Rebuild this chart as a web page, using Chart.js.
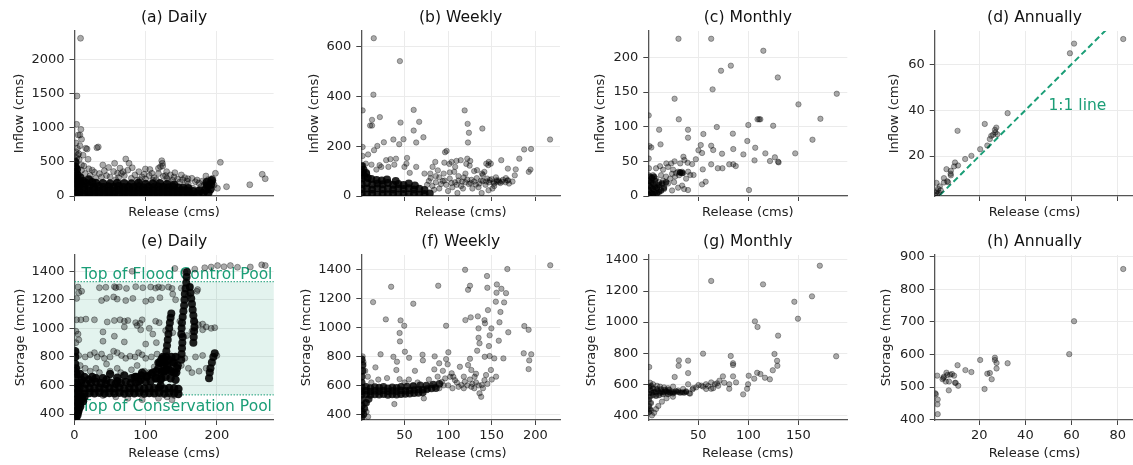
<!DOCTYPE html>
<html><head><meta charset="utf-8">
<script src="https://cdn.jsdelivr.net/npm/chart.js@4.4.1/dist/chart.umd.min.js"></script>
<style>
body{margin:0;background:#fff;width:1133px;height:465px;overflow:hidden;position:relative}
canvas{position:absolute}
</style></head><body>
<script>
// ---------------- DATA ----------------
const dailyXTicks = [0,100,200];
const weeklyXTicks = [50,100,150,200];
const monthlyXTicks = [50,100,150];
const annualXTicks = [20,40,60,80];
const dailyInflowYTicks = [0,500,1000,1500,2000];
const weeklyInflowYTicks = [0,200,400,600];
const monthlyInflowYTicks = [0,50,100,150,200];
const annualInflowYTicks = [20,40,60];
const storageYTicks = [400,600,800,1000,1200,1400];
const annualStorageYTicks = [400,500,600,700,800,900];

const floodControlTop = 1327;   // mcm
const conservationTop = 534;    // mcm
const oneToOneEnds = [3, 80];

// (a) daily inflow vs release
const dailyInflowSparse = [[8.5,2319],[3.5,1470],[3,1054],[9,980],[5.3,897],[7.6,897],[9.9,834],[7.6,740],[15.9,701],[17.7,691],[31.5,710],[33.4,721],[4.4,603],[6.6,540],[9.9,456],[19.1,540],[13.1,441],[39.8,456],[56.4,481],[72.1,544],[76.7,481],[81.2,416],[122.7,519],[123.6,481],[124,441],[120.9,431],[118.1,407],[99.7,397],[205.1,495],[198.2,334],[213.8,137],[246.5,166],[264,319],[268.2,254],[159.5,254],[172.4,235],[184.8,294],[194,260],[194,210],[193,196],[196.4,162],[201,113],[177.9,137],[182.6,162],[187.2,113],[173.3,88],[166.4,113],[60.5,334],[68.4,358],[90.5,358],[108.8,334],[129.6,358],[141.2,343],[150.3,309],[2,780],[4,700],[2,650],[6,620],[12,600],[3,560],[20,400],[25,380],[28,350],[35,330],[45,300],[50,280],[42,370],[62,270],[70,300],[80,260],[85,310],[95,280],[100,250],[105,300],[112,270],[118,330],[125,290],[130,260],[135,310],[140,280],[145,250],[152,240],[158,220],[165,260],[170,210],[175,190],[180,220],[185,180],[188,240],[190,150],[30,260],[15,330],[10,380],[55,360],[75,380],[92,240],[110,230],[132,220],[148,205],[160,180],[22,300],[38,280],[58,240],[66,330],[88,230],[98,320],[115,240],[128,300],[138,230],[155,270],[48,420],[64,410],[106,390]];
const dailyInflowCore = [[0,20],[6,25],[13,18],[20,22],[27,15],[34,24],[41,20],[48,18],[55,25],[62,20],[69,16],[76,22],[83,19],[90,24],[97,18],[104,21],[111,17],[118,23],[125,20],[132,18],[139,24],[146,19],[153,22],[160,18],[167,25],[174,30],[181,40],[188,45],[0,80],[6,75],[13,82],[20,70],[27,78],[34,74],[41,80],[48,72],[55,76],[62,82],[69,74],[76,78],[83,72],[90,80],[97,76],[104,70],[111,78],[118,74],[125,80],[132,72],[139,76],[146,70],[153,78],[160,72],[167,66],[176,80],[184,90],[191,100],[0,140],[6,150],[13,135],[20,145],[27,130],[34,140],[41,128],[48,136],[55,130],[62,140],[69,126],[76,134],[83,128],[90,138],[97,124],[104,132],[111,126],[118,136],[125,130],[132,124],[139,132],[146,120],[153,118],[160,112],[187,150],[192,170],[186,200],[193,230],[1,200],[1,270],[1,350],[1,430],[1,500],[4,240],[4,310],[8,200],[8,270],[12,220],[16,190],[20,240],[25,200],[3,390],[6,180],[30,190],[40,185],[50,180],[60,190],[70,185],[80,180],[90,190],[100,175],[110,180],[120,185],[130,170],[140,165]];

// (b) weekly inflow vs release
const weeklyInflowSparse = [[14.8,634],[44.8,542],[14.4,407],[2,344],[60.6,346],[119.1,344],[12.8,306],[21.8,317],[45.5,295],[66.9,298],[10.6,283],[12.8,283],[122.5,290],[124,254],[139.4,271],[60.6,263],[71.8,236],[122.9,215],[63.5,215],[48.9,228],[44,208],[37.3,227],[26.4,216],[18.9,201],[15.1,184],[8.3,167],[2,197],[2,161],[217.1,227],[187.4,187],[195.3,189],[181.8,150],[192.7,97],[194.6,106],[177.7,107],[161.1,144],[168.7,110],[149.1,130],[146.2,124],[146.8,137],[143.9,130],[133.3,104],[139,90],[141.7,97],[125.5,141],[124.8,122],[122.1,150],[121,129],[114.6,144],[109.7,141],[104.1,137],[96.6,176],[98.4,181],[95.8,134],[101.5,129],[108.2,117],[107.1,97],[110.8,12],[117.2,30],[138.6,12],[146.5,23],[151,30],[152.9,50],[155.9,63],[158.6,56],[169,63],[166.4,72],[176.6,83],[88.3,103],[85.4,137],[82.3,117],[73,90],[79.7,90],[53,153],[50,117],[56.1,93],[63.5,117],[52.3,130],[40.3,150],[38.4,126],[33.9,148],[31.6,117],[29,144],[23.4,117],[17.8,106],[21.5,124],[12.2,126],[7.2,90],[5.7,130],[2.7,124],[2.7,90],[82,40],[86,55],[90,30],[94,60],[98,45],[102,70],[105,35],[108,55],[112,62],[115,40],[118,75],[120,55],[124,48],[127,65],[130,58],[133,72],[136,50],[140,60],[143,45],[147,55],[150,68],[153,40],[156,58],[160,52],[163,65],[166,55],[170,50],[174,58],[100,20],[90,75],[128,30],[135,35],[145,70],[112,80],[155,75],[120,90],[130,100],[140,85],[95,90],[102,95],[84,25],[92,48],[96,62],[104,52],[110,45],[116,58],[122,66],[126,52],[132,46],[138,62],[144,58],[148,64],[152,55],[158,62],[162,58],[168,62],[78,60],[80,72],[86,80],[76,45]];
const weeklyInflowCore = [[1,8],[7,6],[13,9],[19,5],[25,8],[31,7],[37,9],[43,6],[49,8],[55,7],[61,9],[67,6],[73,8],[79,10],[1,28],[7,30],[13,26],[19,31],[25,27],[31,29],[37,26],[43,30],[49,28],[55,31],[61,26],[67,29],[73,24],[1,48],[7,52],[13,46],[19,50],[25,47],[31,52],[37,45],[43,48],[49,44],[55,50],[62,42],[1,70],[1,95],[1,120],[4,80],[8,72],[12,68],[18,64],[24,62],[30,66],[40,60],[3,105],[6,92]];

// (c) monthly inflow vs release
const monthlyInflowSparse = [[30.4,226.8],[63,226.8],[115,209.5],[72.8,180.7],[82.6,188],[64.4,153.8],[26.5,140.3],[129.4,171],[150,132.2],[188.2,147.5],[30.7,110.6],[0.7,116.3],[109.2,110.6],[110.8,110.6],[112,110.6],[171.9,111.4],[100,102.4],[124.8,101.3],[164,81.2],[146.8,61.5],[68.6,99.5],[39.9,95.6],[11.1,95.6],[55.2,89.4],[84.6,89.9],[39.9,84.1],[12.5,74.5],[52.6,73.5],[63,72.5],[99,79.3],[106.9,69.6],[117,61.5],[126.5,55.8],[121.6,50.4],[129.7,49.5],[130.2,48.5],[106.2,51.4],[95.1,60],[85,67.7],[73.8,61],[65,66.3],[53.9,62],[50.3,65.9],[85,45.7],[87.5,43.2],[81,45.7],[74.2,40],[69.6,40],[63,45.7],[54.6,38.4],[53.9,16.8],[57.5,20.6],[100.7,8.6],[39.9,8.6],[42.2,30.3],[45.4,30.3],[47.7,53],[39.5,48],[36.3,51.9],[35.3,56.6],[32.1,47],[26.5,50],[23.2,47],[18.3,47],[1.5,72],[3.3,70],[0.7,54],[1,40],[0.8,30],[5,30],[8,25],[15,38],[20,42],[25,38],[28,33],[30,35],[32,34],[34,35],[35,33],[31,30],[27,28],[24,32],[22,25],[18,28],[15,22],[13,30],[11,20],[10,14],[20,18],[26,20],[30,12],[34,15],[38,25],[36,10],[16,10],[24,8],[40,35],[44,46],[12,43],[8,40]];
const monthlyInflowCore = [[1,2],[1,8],[1,15],[1,22],[3,4],[3,12],[3,20],[5,3],[5,10],[5,18],[7,5],[7,13],[7,22],[9,4],[9,12],[11,6],[11,16],[13,8],[14,18],[16,12],[18,20],[2,28],[4,26],[6,28],[32,34],[34,33]];

// (d) annual inflow vs release
const annualInflow = [[82.4,71],[61.1,69],[59.3,64.8],[32.3,38.7],[22.4,34],[10.6,31],[27.4,32.4],[26.8,31.4],[27,30.3],[26,29.3],[25.2,28.8],[24.6,27.4],[23.5,24.6],[20.4,23],[16.6,20.1],[13.9,18.7],[9.5,17.2],[10.8,15.9],[9.1,15.5],[5.8,14.3],[7.7,13.6],[7.6,12.3],[7.7,11.6],[4.7,10.4],[6.1,9],[4.7,8.5],[1.5,8.3],[2.9,6.8],[2.2,5.7],[1.6,4.6],[1.2,3.9],[1.8,3.3],[2.5,4.1],[3.3,5.1],[6.5,8.6],[27.8,29.5]];

// (e) daily storage vs release
const dailyStorageSparse = [[5,1290],[35,1285],[44,1288],[56,1292],[58,1285],[63,1290],[73,1280],[86,1292],[96,1285],[107,1290],[114,1282],[118,1290],[123,1285],[132,1290],[137,1280],[150,1282],[162,1290],[173,1272],[81,1400],[141,1420],[155,1395],[169,1415],[183,1425],[192,1430],[201,1440],[210,1432],[219,1440],[229,1428],[247,1430],[263,1445],[268,1440],[3,1210],[6,1250],[10,1260],[38,1195],[45,1210],[55,1220],[60,1205],[72,1195],[82,1210],[100,1190],[108,1200],[120,1215],[138,1240],[142,1200],[160,1230],[172,1260],[3,1060],[9,1060],[16,1065],[28,1060],[46,1045],[56,1055],[64,1060],[70,1050],[75,1055],[86,1040],[92,1035],[95,1060],[114,1050],[119,1040],[148,1050],[169,1045],[174,1025],[180,1030],[185,1010],[192,1000],[197,1005],[165,980],[180,990],[2,980],[5,960],[40,975],[56,945],[70,1010],[88,1020],[105,1000],[110,960],[93,990],[128,985],[138,970],[158,950],[2,900],[6,920],[40,910],[70,905],[100,890],[115,900],[2,830],[6,810],[15,800],[22,815],[28,830],[32,800],[38,820],[42,790],[50,800],[55,840],[60,830],[66,810],[72,790],[78,805],[85,800],[90,830],[95,815],[100,790],[108,800],[116,820],[122,790],[130,810],[145,800],[155,790],[170,800],[180,810],[200,810],[8,740],[15,720],[22,700],[30,720],[35,690],[45,750],[50,700],[60,720],[65,690],[80,710],[88,740],[98,700],[105,690],[112,730],[125,700],[133,720],[142,680],[150,740],[160,720],[165,690],[175,700],[185,720],[40,530],[58,520],[75,510],[95,500],[118,510],[130,520],[137,500],[140,530]];
const dailyStorageCore = [[0,545],[7,548],[14,543],[21,547],[28,545],[35,549],[42,544],[49,547],[56,545],[63,548],[70,543],[77,547],[84,545],[91,549],[98,544],[105,547],[112,545],[119,548],[126,543],[133,547],[140,545],[146,540],[0,580],[7,583],[14,578],[21,582],[28,580],[35,584],[42,579],[49,582],[56,580],[63,585],[70,578],[77,582],[84,580],[91,584],[98,579],[105,582],[112,580],[119,585],[126,578],[133,582],[140,580],[146,575],[2,615],[9,620],[16,612],[23,618],[30,625],[37,615],[44,610],[51,620],[58,612],[65,618],[72,625],[79,615],[86,620],[93,640],[100,625],[107,630],[114,650],[121,640],[128,660],[135,650],[142,640],[25,660],[50,680],[70,670],[95,690],[110,690],[118,720],[126,700],[133,710],[140,690],[30,650],[60,655],[85,660],[102,665],[120,760],[124,800],[130,740],[138,760],[144,720],[40,650],[14,660],[8,680],[0.5,380],[1,420],[1,460],[1,500],[1,650],[1,700],[1,750],[1,800],[1,840],[4,390],[6,430],[8,470],[11,505],[14,520],[3,520],[3,680],[2,720],[2,370],[5,410],[8,450],[12,490],[4,480],[7,500],[10,520],[3,450],[80,650],[87,660],[94,670],[101,660],[108,680],[115,700],[122,690],[129,710],[136,700],[143,690],[118,760],[122,780],[126,760],[132,780],[140,760],[145,740],[142,800],[136,800],[115,650],[90,630],[60,630],[45,640],[20,640],[10,640],[5,600],[5,560]];
const dailyStorageStreaks = [[128,760],[128.5,800],[129,840],[130,880],[131,920],[132,960],[133,1000],[134,1040],[135,1075],[136,1105],[150,960],[150.5,1000],[151,1040],[152,1080],[153,1120],[154,1160],[154.5,1200],[155,1240],[156,1280],[157,1320],[157.5,1360],[158,1395],[162,1290],[163,1250],[164,1210],[165,1170],[166,1130],[167,1090],[168,1050],[168.5,1010],[150,780],[150.5,820],[151,860],[151.5,900],[152,940],[167,900],[167.5,940],[168,980],[189,650],[190,690],[191,720],[193,760],[195,800],[197,826],[121,600],[122,650],[123,700],[124,750],[125,790]];

// (f) weekly storage vs release
const weeklyStorageSparse = [[217.1,1428],[167.9,1402],[119.5,1397],[144.6,1354],[34.7,1280],[88.7,1287],[125.1,1287],[122.9,1259],[145,1273],[155.9,1296],[161.1,1266],[166.4,1236],[155.5,1239],[154.7,1177],[164.2,1172],[160,1106],[145.7,1119],[14,1174],[60.1,1163],[28.6,1055],[45.5,1048],[49.7,1011],[97.7,1011],[119.8,1050],[125.9,1069],[134.1,1076],[141.7,1050],[142.3,1028],[134.9,993],[149.6,993],[158.9,1035],[187.4,1009],[192.3,983],[169,966],[44.4,961],[44.8,903],[134.9,928],[147.6,945],[136,890],[146.8,871],[158.1,908],[133.3,839],[147.6,802],[142,797],[152.9,786],[163.4,786],[186.7,821],[195.3,814],[193,772],[192.3,712],[100.3,828],[97.7,781],[99.5,745],[89.8,752],[84.2,710],[84.6,800],[71.1,772],[70.7,811],[55.3,790],[50.5,832],[37.3,797],[22.6,814],[16.7,724],[41.4,763],[40.7,706],[44.4,643],[125.1,783],[122.9,740],[126.6,706],[113.5,728],[104.1,683],[137.9,521],[136,545],[126.6,590],[115.3,602],[107.9,636],[106,659],[138.6,602],[141.7,636],[143.5,671],[149.1,706],[130.4,659],[119.1,624],[72.2,510],[75.9,567],[85.4,590],[92.8,624],[96.6,648],[102.3,659],[38.4,471],[6.5,418],[8.3,383],[4.6,476],[100,600],[105,580],[110,620],[112,590],[118,580],[122,600],[125,640],[128,610],[130,580],[132,620],[135,600],[140,580],[145,610],[150,640],[155,660],[132,680],[118,660],[95,600],[90,580],[80,600],[78,640],[65,620],[60,600],[88,660],[94,700],[62,700],[55,640],[50,620],[30,650],[20,640],[12,620],[5,700],[3,760],[2,800],[8,660]];
const weeklyStorageCore = [[1,535],[6,538],[11,533],[16,537],[21,535],[26,539],[31,534],[36,537],[41,535],[46,539],[51,540],[56,542],[61,545],[66,548],[71,550],[1,560],[6,563],[11,558],[16,562],[21,560],[26,564],[31,559],[36,562],[41,560],[46,565],[51,562],[56,566],[61,568],[66,572],[71,570],[76,575],[81,578],[86,580],[1,585],[6,590],[11,582],[16,588],[21,584],[26,590],[31,580],[36,586],[41,583],[46,590],[53,592],[60,596],[68,600],[75,598],[83,605],[90,610],[1,380],[1,420],[1,460],[1,500],[1,620],[1,660],[2,700],[3,400],[4,440],[6,480],[9,505],[2,740],[1,780]];

// (g) monthly storage vs release
const monthlyStorageSparse = [[63,1265],[114.7,1243],[171.3,1363],[145.9,1131],[163.5,1166],[149.5,1022],[106.6,1005],[109.2,969],[129.7,913],[187.6,780],[126.1,795],[128.7,751],[129,719],[124.4,690],[108.8,674],[112.1,666],[116.6,642],[121.5,632],[105.9,636],[100.4,655],[99.8,600],[98.8,571],[94.9,535],[82.5,782],[84.8,735],[84.8,724],[84.8,651],[87.8,612],[81,600],[81,571],[74.7,651],[71.2,623],[68.8,606],[66.6,600],[63,612],[63,571],[60,589],[57.8,600],[53.2,591],[50.3,595],[54.9,797],[40,752],[30.8,754],[30.5,719],[40,672],[26.6,647],[40,600],[41.2,542],[44.4,567],[1.2,711],[10.3,460],[13.9,488],[18.5,510],[24.9,520],[6.1,417],[4,400],[3,430],[8,440],[2,610],[5,600],[9,590],[12,585],[16,580],[20,575],[25,585],[30,560],[35,570],[38,555],[42,540],[45,575],[48,580],[55,585],[58,570],[65,575],[70,590],[76,610]];
const monthlyStorageCore = [[1,420],[1,460],[1,500],[1,540],[1,580],[2,440],[2,520],[3,480],[3,560],[4,545],[6,550],[8,548],[10,555],[12,545],[14,552],[16,548],[18,555],[20,550],[22,545],[24,552],[26,548],[28,555],[30,550],[32,545],[34,548],[36,545],[38,550],[5,530],[8,525],[11,530],[15,535],[20,535],[25,540],[3,590],[5,575],[9,570],[13,568],[17,565],[21,565]];

// (h) annual storage vs release
const annualStorage = [[82.4,862],[61.1,702],[59,601],[32.3,573],[27.5,557],[27.5,574],[26.8,583],[26.8,590],[20.4,583],[22.3,494],[23.5,541],[24.6,543],[25.4,524],[16.6,546],[14,552],[10.6,567],[10.9,504],[9.5,513],[9.1,535],[8.2,540],[7.4,538],[5.8,544],[6.8,490],[4.7,532],[4.1,524],[5.5,517],[6.9,517],[1.8,535],[0.9,481],[2,462],[1.9,447],[2,417],[4.5,528],[9.8,513],[6.2,537],[1.2,478]];

// ---------------- LAYOUT ----------------
const TEAL = '#1b9e77';
Chart.defaults.font.family = "'DejaVu Sans'";
Chart.defaults.font.size = 13;
const colL = [74.5, 361.3, 648.3, 934.7];
const colR = [278, 564, 851, 1138];
const rowT = [31, 255];
const rowB = [196, 420];
const rowCanvasBottom = [220, 461];

const pts = a => a.map(([x,y]) => ({x, y}));
const sparse = (a, r) => ({data: pts(a), backgroundColor:'rgba(0,0,0,0.33)', borderColor:'rgba(0,0,0,0.33)', borderWidth:1, pointRadius:r, pointHoverRadius:r});
const core = (a, r, alpha) => ({data: pts(a), backgroundColor:`rgba(0,0,0,${alpha})`, borderColor:'rgba(0,0,0,0)', borderWidth:0, pointRadius:r, pointHoverRadius:r});

const panels = [
 {row:0,col:0,title:'(a) Daily',ylabel:'Inflow (cms)',labelX:20,xr:[0,280],yr:[0,2426],xt:dailyXTicks,yt:dailyInflowYTicks,
  sets:[core(dailyInflowCore,4.4,0.9), sparse(dailyInflowSparse,3)]},
 {row:0,col:1,title:'(b) Weekly',ylabel:'Inflow (cms)',labelX:315,xr:[0.5,228.5],yr:[0,663],xt:weeklyXTicks,yt:weeklyInflowYTicks,
  sets:[core(weeklyInflowCore,4,0.85), sparse(weeklyInflowSparse,2.7)]},
 {row:0,col:2,title:'(c) Monthly',ylabel:'Inflow (cms)',labelX:600.7,xr:[0.3,198.7],yr:[0,238],xt:monthlyXTicks,yt:monthlyInflowYTicks,
  sets:[core(monthlyInflowCore,3.2,0.75), sparse(monthlyInflowSparse,2.7)]},
 {row:0,col:3,title:'(d) Annually',ylabel:'Inflow (cms)',labelX:895,xr:[0.7,87.2],yr:[2.6,74.5],xt:annualXTicks,yt:annualInflowYTicks,
  sets:[sparse(annualInflow,2.7), {data: oneToOneEnds.map(v=>({x:v,y:v})), showLine:true, borderColor:TEAL, borderWidth:2, borderDash:[6,3.5], pointRadius:0, fill:false}],
  oneToOne:true},
 {row:1,col:0,title:'(e) Daily',ylabel:'Storage (mcm)',labelX:20.5,xr:[0,280],yr:[358,1514],xt:dailyXTicks,yt:storageYTicks,
  sets:[core(dailyStorageStreaks,4,0.88), core(dailyStorageCore,4.2,0.9), sparse(dailyStorageSparse,3)], pools:true},
 {row:1,col:1,title:'(f) Weekly',ylabel:'Storage (mcm)',labelX:306.7,xr:[0.5,228.5],yr:[361,1499],xt:weeklyXTicks,yt:storageYTicks,
  sets:[core(weeklyStorageCore,3.8,0.8), sparse(weeklyStorageSparse,2.7)]},
 {row:1,col:2,title:'(g) Monthly',ylabel:'Storage (mcm)',labelX:591.7,xr:[0.3,198.7],yr:[370,1432],xt:monthlyXTicks,yt:storageYTicks,
  sets:[core(monthlyStorageCore,3,0.6), sparse(monthlyStorageSparse,2.7)]},
 {row:1,col:3,title:'(h) Annually',ylabel:'Storage (mcm)',labelX:886.7,xr:[0.7,87.2],yr:[399,905],xt:annualXTicks,yt:annualStorageYTicks,
  sets:[sparse(annualStorage,2.7)]}
];

const titlePlugin = {
  id:'ptitle',
  afterDraw(chart, args, opts){
    const {ctx, chartArea:a} = chart;
    ctx.save();
    ctx.font = "15.6px 'DejaVu Sans'";
    ctx.fillStyle = '#111';
    ctx.textAlign = 'center'; ctx.textBaseline = 'middle';
    ctx.fillText(opts.text, (a.left + a.right)/2, a.top - 13);
    ctx.restore();
  }
};
const poolPlugin = {
  id:'pools',
  beforeDatasetsDraw(chart, args, opts){
    if(!opts.on) return;
    const {ctx, chartArea:a, scales:{y}} = chart;
    const yTop = y.getPixelForValue(floodControlTop), yBot = y.getPixelForValue(conservationTop);
    ctx.save();
    ctx.fillStyle = 'rgba(27,158,119,0.12)';
    ctx.fillRect(a.left, yTop, a.right - a.left, yBot - yTop);
    ctx.strokeStyle = TEAL; ctx.lineWidth = 1; ctx.setLineDash([1.5,1.5]);
    ctx.beginPath(); ctx.moveTo(a.left, yTop); ctx.lineTo(a.right, yTop);
    ctx.moveTo(a.left, yBot); ctx.lineTo(a.right, yBot); ctx.stroke();
    ctx.setLineDash([]);
    ctx.fillStyle = TEAL; ctx.font = "15.5px 'DejaVu Sans'"; ctx.textAlign='left'; ctx.textBaseline='alphabetic';
    ctx.fillText('Top of Flood Control Pool', a.left + 7, yTop - 3);
    ctx.fillText('Top of Conservation Pool', a.left + 7, yBot + 16);
    ctx.restore();
  }
};
const lineLabelPlugin = {
  id:'linelabel',
  afterDatasetsDraw(chart, args, opts){
    if(!opts.on) return;
    const {ctx, scales:{x,y}} = chart;
    ctx.save();
    ctx.fillStyle = TEAL; ctx.font = "15.5px 'DejaVu Sans'"; ctx.textAlign='left'; ctx.textBaseline='alphabetic';
    ctx.fillText('1:1 line', x.getPixelForValue(50), y.getPixelForValue(40));
    ctx.restore();
  }
};

panels.forEach(p => {
  const plotL = colL[p.col], plotR = colR[p.col], plotT = rowT[p.row], plotB = rowB[p.row];
  const cvL = Math.round(p.labelX - 7.8);
  const cvT = plotT - 31;
  const cvB = rowCanvasBottom[p.row];
  const W = Math.round(plotR) - cvL, H = cvB - cvT;
  const cv = document.createElement('canvas');
  cv.width = W; cv.height = H;
  cv.style.left = cvL + 'px'; cv.style.top = cvT + 'px';
  cv.style.width = W + 'px'; cv.style.height = H + 'px';
  document.body.appendChild(cv);
  const yW = plotL - cvL, xH = cvB - plotB;
  const axisCommon = {
    grid:{color:'#ebebeb', lineWidth:1, tickColor:'#444', tickLength:5, drawTicks:true},
    border:{color:'#555', width:1.3}
  };
  new Chart(cv, {
    type:'scatter',
    data:{datasets:p.sets},
    options:{
      responsive:false, animation:false, devicePixelRatio:1,
      layout:{padding:{top:31,left:0,right:0,bottom:0}},
      plugins:{legend:{display:false}, tooltip:{enabled:false},
        ptitle:{text:p.title}, pools:{on:!!p.pools}, linelabel:{on:!!p.oneToOne}},
      events:[],
      scales:{
        x:{type:'linear', position:'bottom', min:p.xr[0], max:p.xr[1], ...axisCommon,
          afterBuildTicks: s => { s.ticks = p.xt.map(v => ({value:v})); },
          afterFit: s => { s.height = xH; },
          ticks:{display:p.row===1, color:'#222', font:{size:13}, padding:3, maxRotation:0, autoSkip:false, callback: v => String(v)},
          title:{display:true, text:'Release (cms)', color:'#222', font:{size:13}, padding:0}},
        y:{type:'linear', position:'left', min:p.yr[0], max:p.yr[1], ...axisCommon,
          afterBuildTicks: s => { s.ticks = p.yt.map(v => ({value:v})); },
          afterFit: s => { s.width = yW; },
          ticks:{color:'#222', font:{size:13}, padding:5, autoSkip:false, callback: v => String(v)},
          title:{display:true, text:p.ylabel, color:'#222', font:{size:13}, padding:{top:0,bottom:0}}}
      }
    },
    plugins:[titlePlugin, poolPlugin, lineLabelPlugin]
  });
});
</script>
</body></html>
